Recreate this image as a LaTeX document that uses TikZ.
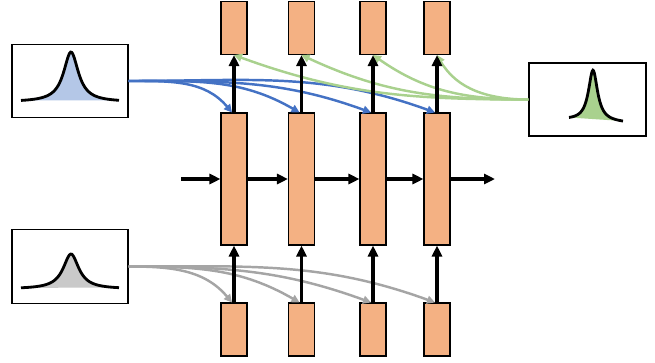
\documentclass[tikz,border=0pt]{standalone}
\usetikzlibrary{arrows.meta}
\definecolor{cellfill}{HTML}{F4B183}
\definecolor{lineblue}{HTML}{4472C4}
\definecolor{fillblue}{HTML}{B4C7E7}
\definecolor{linegreen}{HTML}{A9D18E}
\definecolor{linegray}{HTML}{A5A5A5}
\definecolor{fillgray}{HTML}{C9C9C9}
\begin{document}
\begin{tikzpicture}[x=0.02cm, y=-0.02cm, >={Triangle[length=0.22cm, width=0.2cm]}, line width=2pt,
  cell/.style={draw, line width=0.6pt, fill=cellfill, minimum width=0.52cm, inner sep=0pt},
  small cell/.style={cell, minimum height=1.06cm},
  tall cell/.style={cell, minimum height=2.64cm},
  box/.style={draw, line width=0.8pt, fill=white, minimum width=2.32cm, minimum height=1.47cm, inner sep=0pt},
  thin arrow/.style={->, line width=1.4pt, >={Triangle[length=0.16cm, width=0.16cm]}}]
  \useasboundingbox (0,0) rectangle (655,362);

  \node[small cell] (y1) at (234, 28) {};
  \node[small cell] (y2) at (301.5, 28) {};
  \node[small cell] (y3) at (373, 28) {};
  \node[small cell] (y4) at (437, 28) {};

  \node[tall cell] (h1) at (234, 179) {};
  \node[tall cell] (h2) at (301.5, 179) {};
  \node[tall cell] (h3) at (373, 179) {};
  \node[tall cell] (h4) at (437, 179) {};

  \node[small cell] (x1) at (234, 329.5) {};
  \node[small cell] (x2) at (301.5, 329.5) {};
  \node[small cell] (x3) at (373, 329.5) {};
  \node[small cell] (x4) at (437, 329.5) {};

  \coordinate (hin) at (181, 179);
  \coordinate (hout) at (495, 179);

  % the three boxes with their densities
  \node[box] (zblue) at (70, 81) {};
  \node[box] (zgray) at (70, 266.5) {};
  \node[box, minimum width=2.34cm, minimum height=1.46cm] (zgreen) at (587.5, 99.5) {};

  \fill[fillblue] plot[domain=21:119, samples=80] (\x, {102 - 50/(1+((\x-71)/9)^2)}) -- cycle;
  \draw[line width=1.6pt] plot[domain=21:119, samples=80] (\x, {102 - 50/(1+((\x-71)/9)^2)});
  \fill[fillgray] plot[domain=21:119, samples=80] (\x, {289 - 35/(1+((\x-71)/9.5)^2)}) -- cycle;
  \draw[line width=1.6pt] plot[domain=21:119, samples=80] (\x, {289 - 35/(1+((\x-71)/9.5)^2)});
  \fill[linegreen] plot[domain=569:623, samples=80] (\x, {120 + 0.05*(\x-569) - 51/(1+((\x-593)/5.5)^2)}) -- cycle;
  \draw[line width=1.6pt] plot[domain=569:623, samples=80] (\x, {120 + 0.05*(\x-569) - 51/(1+((\x-593)/5.5)^2)});

  % curved connections
  \path (zblue.east) edge[thin arrow, lineblue, out=0, in=130] ([xshift=-0.04cm]h1.north);
  \path (zblue.east) edge[thin arrow, lineblue, out=0, in=150] ([xshift=-0.04cm]h2.north);
  \path (zblue.east) edge[thin arrow, lineblue, out=0, in=160] ([xshift=-0.04cm]h3.north);
  \path (zblue.east) edge[thin arrow, lineblue, out=0, in=160] ([xshift=-0.04cm]h4.north);

  \path (zgray.east) edge[thin arrow, linegray, out=0, in=130] ([xshift=-0.04cm]x1.north);
  \path (zgray.east) edge[thin arrow, linegray, out=0, in=150] ([xshift=-0.04cm]x2.north);
  \path (zgray.east) edge[thin arrow, linegray, out=0, in=160] ([xshift=-0.04cm]x3.north);
  \path (zgray.east) edge[thin arrow, linegray, out=0, in=160] ([xshift=-0.04cm]x4.north);

  \path (zgreen.west) edge[thin arrow, linegreen, out=180, in=-20] (y1.south);
  \path (zgreen.west) edge[thin arrow, linegreen, out=180, in=-25] (y2.south);
  \path (zgreen.west) edge[thin arrow, linegreen, out=180, in=-35] (y3.south);
  \path (zgreen.west) edge[thin arrow, linegreen, out=180, in=-60] (y4.south);

  % black arrows
  \path[->] (hin) edge (h1) (h1) edge (h2) (h2) edge (h3) (h3) edge (h4) (h4) edge (hout);
  \path[->] (h1) edge (y1) (h2) edge (y2) (h3) edge (y3) (h4) edge (y4);
  \path[->] (x1) edge (h1) (x2) edge (h2) (x3) edge (h3) (x4) edge (h4);
\end{tikzpicture}
\end{document}
